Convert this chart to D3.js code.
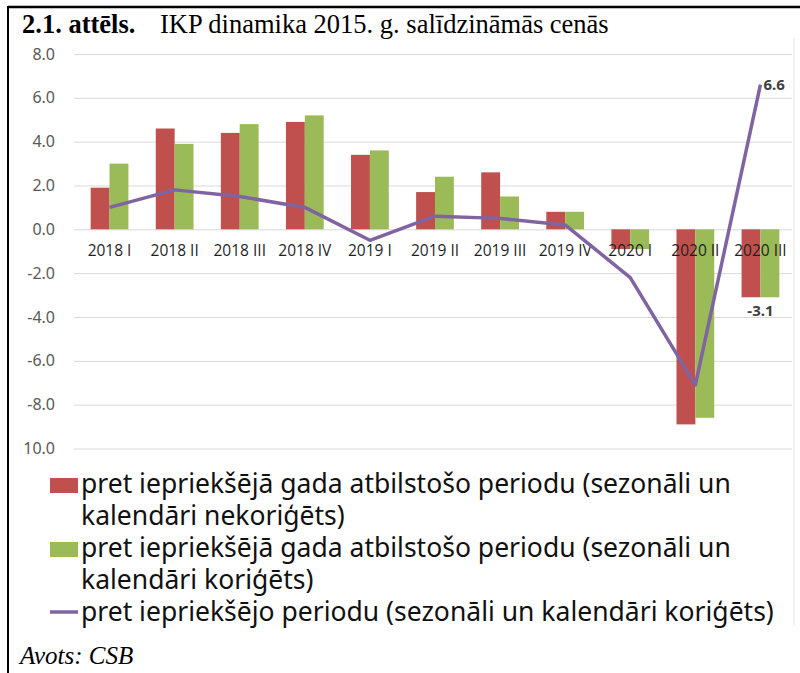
<!DOCTYPE html>
<meta charset="utf-8">
<style>
body { margin: 0; background: #fff; }

.title { font-family: "Liberation Serif", "Times New Roman", serif; font-size: 26.5px; fill: #000; }
.title .bold { font-weight: bold; }
.source { font-family: "Liberation Serif", "Times New Roman", serif; font-size: 25px; font-style: italic; fill: #000; }

.grid line { stroke: #d9d9d9; stroke-width: 1px; }
.grid path, .axis--y path, .axis--x path { display: none; }

.axis--y text { font-family: "Noto Sans", sans-serif; font-size: 16px; fill: #595959; }
.axis--x text { font-family: "Open Sans", "Noto Sans", sans-serif; font-size: 15.5px; fill: #1f1f1f; }

.line { fill: none; stroke: #8064a2; stroke-width: 3.5px; stroke-linejoin: round; }

.value { font-family: "Noto Sans", sans-serif; font-size: 15px; font-weight: bold; fill: #404040; }
.legend text { font-family: "Noto Sans", sans-serif; font-size: 26.5px; fill: #111; }
</style>
<body>
<svg id="chart" width="800" height="673"></svg>
<script src="https://d3js.org/d3.v7.min.js"></script>
<script>

// ceturkšņi
var categories = ["2018 I", "2018 II", "2018 III", "2018 IV", "2019 I", "2019 II",
                  "2019 III", "2019 IV", "2020 I", "2020 II", "2020 III"];

// pret iepriekšējā gada atbilstošo periodu (nekoriģēts)
var yoyRaw = [1.9, 4.6, 4.4, 4.9, 3.4, 1.7, 2.6, 0.8, -0.9, -8.9, -3.1];
// pret iepriekšējā gada atbilstošo periodu (koriģēts)
var yoyAdj = [3.0, 3.9, 4.8, 5.2, 3.6, 2.4, 1.5, 0.8, -0.9, -8.6, -3.1];
// pret iepriekšējo periodu
var qoq = [1.0, 1.8, 1.5, 1.0, -0.5, 0.6, 0.5, 0.2, -2.2, -7.1, 6.6];

var yTicks = [-10, -8, -6, -4, -2, 0, 2, 4, 6, 8];
var yTickLabels = ["10.0", "-8.0", "-6.0", "-4.0", "-2.0", "0.0", "2.0", "4.0", "6.0", "8.0"];

var legendLines = [
  {type: "rect", color: "#c0504d", text: "pret iepriekšējā gada atbilstošo periodu (sezonāli un"},
  {type: "none", text: "kalendāri nekoriģēts)"},
  {type: "rect", color: "#9bbb59", text: "pret iepriekšējā gada atbilstošo periodu (sezonāli un"},
  {type: "none", text: "kalendāri koriģēts)"},
  {type: "line", color: "#8064a2", text: "pret iepriekšējo periodu (sezonāli un kalendāri koriģēts)"}
];

var svg = d3.select("#chart");

// rāmis
svg.append("line").attr("x1", 8).attr("x2", 800).attr("y1", 7).attr("y2", 7)
    .attr("stroke", "#000").attr("stroke-width", 2.5);
svg.append("line").attr("x1", 8).attr("x2", 8).attr("y1", 6).attr("y2", 673)
    .attr("stroke", "#000").attr("stroke-width", 2);
svg.append("line").attr("x1", 794).attr("x2", 794).attr("y1", 38).attr("y2", 625)
    .attr("stroke", "#e3e3e3").attr("stroke-width", 1);

var title = svg.append("text").attr("class", "title").attr("y", 33);
title.append("tspan").attr("class", "bold").attr("x", 22).text("2.1. attēls.");
title.append("tspan").attr("x", 160).text("IKP dinamika 2015. g. salīdzināmās cenās");

var x = d3.scaleBand()
    .domain(categories)
    .range([77, 793])
    .paddingInner(0.42)
    .paddingOuter(0.21);

var x1 = d3.scaleBand()
    .domain(["raw", "adj"])
    .range([0, x.bandwidth()]);

var y = d3.scaleLinear()
    .domain([-10, 8])
    .range([448.5, 54]);

// režģis
svg.append("g")
    .attr("class", "grid")
    .attr("transform", "translate(74,0)")
    .call(d3.axisLeft(y).tickValues(yTicks).tickSize(-718).tickFormat(""));

svg.append("g")
    .attr("class", "axis axis--y")
    .attr("transform", "translate(55,0)")
    .call(d3.axisLeft(y).tickValues(yTicks).tickSize(0).tickPadding(0)
      .tickFormat(function(d) { return yTickLabels[yTicks.indexOf(d)]; }));

var bars = categories.map(function(c, i) {
  return {cat: c, values: [{key: "raw", v: yoyRaw[i]}, {key: "adj", v: yoyAdj[i]}]};
});
var color = {raw: "#c0504d", adj: "#9bbb59"};

var group = svg.selectAll(".group")
  .data(bars)
  .enter().append("g")
    .attr("class", "group")
    .attr("transform", function(d) { return "translate(" + x(d.cat) + ",0)"; });

group.selectAll("rect")
  .data(function(d) { return d.values; })
  .enter().append("rect")
    .attr("x", function(d) { return x1(d.key); })
    .attr("width", x1.bandwidth())
    .attr("y", function(d) { return y(Math.max(0, d.v)); })
    .attr("height", function(d) { return Math.abs(y(d.v) - y(0)); })
    .attr("fill", function(d) { return color[d.key]; });

svg.append("g")
    .attr("class", "axis axis--x")
    .attr("transform", "translate(0," + y(0) + ")")
    .call(d3.axisBottom(x).tickSize(0).tickPadding(16));

var line = d3.line()
    .x(function(d, i) { return x(categories[i]) + x.bandwidth() / 2; })
    .y(function(d) { return y(d); });

svg.append("path")
    .datum(qoq)
    .attr("class", "line")
    .attr("d", line);

// vērtību etiķetes
var last = categories.length - 1;
svg.append("text")
    .attr("class", "value")
    .attr("x", x(categories[last]) + x.bandwidth() / 2 + 3)
    .attr("y", y(qoq[last]))
    .attr("dy", "0.35em")
    .text(qoq[last].toFixed(1));

svg.append("text")
    .attr("class", "value")
    .attr("text-anchor", "middle")
    .attr("x", x(categories[last]) + x.bandwidth() / 2)
    .attr("y", y(yoyAdj[last]) + 19)
    .text(yoyAdj[last].toFixed(1));

// leģenda
var legend = svg.append("g").attr("class", "legend");
var lineY = d3.scalePoint().domain(d3.range(legendLines.length)).range([493, 621]);

var item = legend.selectAll("g")
  .data(legendLines)
  .enter().append("g")
    .attr("transform", function(d, i) { return "translate(0," + lineY(i) + ")"; });

item.filter(function(d) { return d.type === "rect"; })
  .append("rect")
    .attr("x", 50).attr("y", -15)
    .attr("width", 28).attr("height", 15)
    .attr("fill", function(d) { return d.color; });

item.filter(function(d) { return d.type === "line"; })
  .append("line")
    .attr("x1", 50).attr("x2", 78).attr("y1", -9).attr("y2", -9)
    .attr("stroke", function(d) { return d.color; })
    .attr("stroke-width", 3.5);

item.append("text")
    .attr("x", 81)
    .text(function(d) { return d.text; });

svg.append("text")
    .attr("class", "source")
    .attr("x", 20)
    .attr("y", 664)
    .text("Avots: CSB");

</script>
</body>
